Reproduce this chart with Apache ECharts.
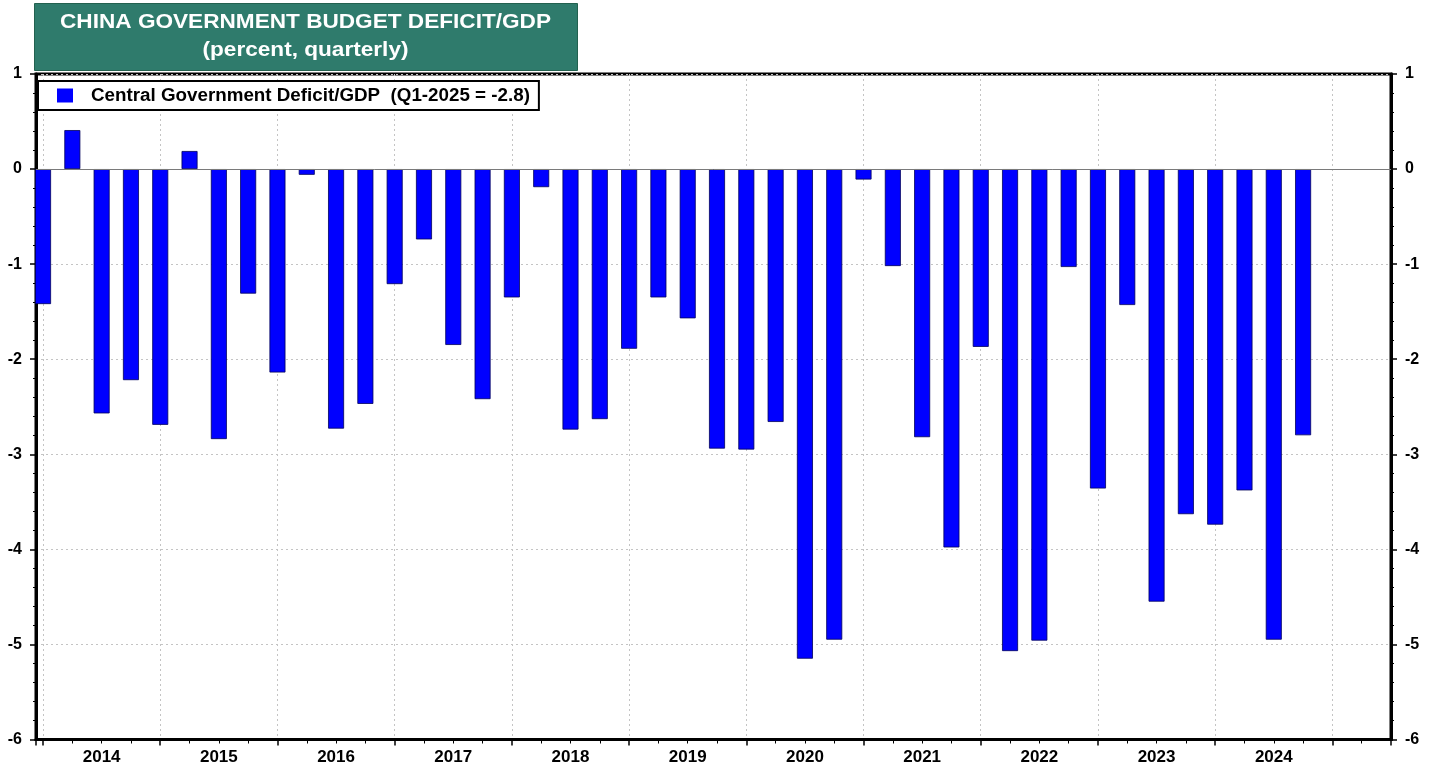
<!DOCTYPE html>
<html>
<head>
<meta charset="utf-8">
<script src="https://cdn.jsdelivr.net/npm/echarts@6/dist/echarts.min.js"></script>
<style>
html,body{margin:0;padding:0;background:#fff;}
#chart{width:1438px;height:773px;}
</style>
</head>
<body>
<div id="chart"></div>
<script>
// Quarter positions on the time axis (decimal years, as plotted)
const quarterX = [
  2014.00, 2014.25, 2014.50, 2014.75,
  2015.00, 2015.25, 2015.50, 2015.75,
  2016.00, 2016.25, 2016.50, 2016.75,
  2017.00, 2017.25, 2017.50, 2017.75,
  2018.00, 2018.25, 2018.50, 2018.75,
  2019.00, 2019.25, 2019.50, 2019.75,
  2020.00, 2020.25, 2020.50, 2020.75,
  2021.00, 2021.25, 2021.50, 2021.75,
  2022.00, 2022.25, 2022.50, 2022.75,
  2023.00, 2023.25, 2023.50, 2023.75,
  2024.00, 2024.25, 2024.50, 2024.75
];
// Central Government Deficit/GDP (percent)
const deficitValues = [
  -1.42, 0.41, -2.57, -2.22,
  -2.69, 0.19, -2.84, -1.31,
  -2.14, -0.06, -2.73, -2.47,
  -1.21, -0.74, -1.85, -2.42,
  -1.35, -0.19, -2.74, -2.63,
  -1.89, -1.35, -1.57, -2.94,
  -2.95, -2.66, -5.15, -4.95,
  -0.11, -1.02, -2.82, -3.98,
  -1.87, -5.07, -4.96, -1.03,
  -3.36, -1.43, -4.55, -3.63,
  -3.74, -3.38, -4.95, -2.80
];
const yearLabels = ['2014','2015','2016','2017','2018','2019','2020','2021','2022','2023','2024'];
const yearLabelX = [2014.5,2015.5,2016.5,2017.5,2018.5,2019.5,2020.5,2021.5,2022.5,2023.5,2024.5];
const seriesName = 'Central Government Deficit/GDP  (Q1-2025 = -2.8)';
const titleLine1 = 'CHINA GOVERNMENT BUDGET DEFICIT/GDP';
const titleLine2 = '(percent, quarterly)';

const FONT = '"Liberation Sans", Arial, Helvetica, sans-serif';
const chart = echarts.init(document.getElementById('chart'), null, {renderer: 'canvas'});

const yAxisCommon = {
  type: 'value', min: -6, max: 1, interval: 1,
  axisLine: {show: true, lineStyle: {color: '#000', width: 3}},
  axisTick: {show: true, inside: false, length: 6, lineStyle: {color: '#000', width: 1.5}},
  minorTick: {show: true, splitNumber: 5, length: 3, lineStyle: {color: '#000', width: 1}},
  axisLabel: {fontFamily: FONT, fontSize: 16, fontWeight: 'bold', color: '#000'}
};

const option = {
  animation: false,
  backgroundColor: '#fff',
  textStyle: {fontFamily: FONT},
  grid: {left: 36, right: 47, top: 74, bottom: 33.5, show: true, borderColor: '#000', borderWidth: 3, backgroundColor: 'transparent'},
  graphic: [
    {type: 'rect', left: 34, top: 3, z: 10,
     shape: {width: 543, height: 67},
     style: {fill: '#2f7b6c', stroke: '#23614f', lineWidth: 1}},
    {type: 'text', x: 305.5, y: 22, scaleX: 1.13, z: 11,
     style: {text: titleLine1, fill: '#fff', font: 'bold 20px ' + FONT, align: 'center', verticalAlign: 'middle', textAlign: 'center', textVerticalAlign: 'middle'}},
    {type: 'text', x: 305.5, y: 50, scaleX: 1.13, z: 11,
     style: {text: titleLine2, fill: '#fff', font: 'bold 20px ' + FONT, align: 'center', verticalAlign: 'middle', textAlign: 'center', textVerticalAlign: 'middle'}}
  ],
  legend: {
    data: [seriesName],
    left: 38, top: 81,
    backgroundColor: '#fff', borderColor: '#000', borderWidth: 2,
    padding: [5, 9, 5, 19],
    itemWidth: 16, itemHeight: 14, icon: 'rect',
    itemStyle: {borderWidth: 0},
    textStyle: {fontFamily: FONT, fontSize: 18.8, fontWeight: 'bold', color: '#000', padding: [0, 0, 0, 13]},
    selectedMode: false
  },
  xAxis: {
    type: 'value', min: 2013.94, max: 2025.5, minInterval: 1, maxInterval: 1,
    axisLine: {show: true, onZero: false, lineStyle: {color: '#000', width: 3}},
    axisTick: {show: true, length: 6, lineStyle: {color: '#000', width: 1.5}},
    minorTick: {show: true, splitNumber: 4, length: 4, lineStyle: {color: '#000', width: 1}},
    axisLabel: {show: false},
    splitLine: {show: true, lineStyle: {color: '#c4c4c4', width: 1, type: [2, 3]}}
  },
  yAxis: [
    Object.assign({}, yAxisCommon, {position: 'left',
      axisLabel: Object.assign({}, yAxisCommon.axisLabel, {margin: 14}),
      splitLine: {show: true, lineStyle: {color: '#c4c4c4', width: 1, type: [2, 3]}}}),
    Object.assign({}, yAxisCommon, {position: 'right',
      axisLabel: Object.assign({}, yAxisCommon.axisLabel, {margin: 14}),
      splitLine: {show: false}})
  ],
  series: [
    {
      name: seriesName,
      type: 'bar',
      barWidth: 16,
      data: quarterX.map((x, i) => [x, deficitValues[i]]),
      itemStyle: {color: '#0000ff', borderColor: '#00005a', borderWidth: 0.8},
      markLine: {
        silent: true, symbol: 'none', label: {show: false},
        lineStyle: {color: '#7a7a7a', width: 1, type: 'solid'},
        data: [{yAxis: 0}]
      },
      z: 3
    },
    {
      type: 'scatter',
      symbol: 'circle',
      symbolSize: 1,
      itemStyle: {color: 'rgba(0,0,0,0)'},
      clip: false,
      silent: true,
      z: 20,
      data: yearLabelX.map((x, i) => [x, -6, yearLabels[i]]),
      label: {
        show: true, position: 'bottom', distance: 9,
        formatter: p => p.data[2],
        fontFamily: FONT, fontSize: 17, fontWeight: 'bold', color: '#000', opacity: 1
      },
      labelLayout: {hideOverlap: false}
    }
  ]
};
chart.setOption(option);
</script>
</body>
</html>
